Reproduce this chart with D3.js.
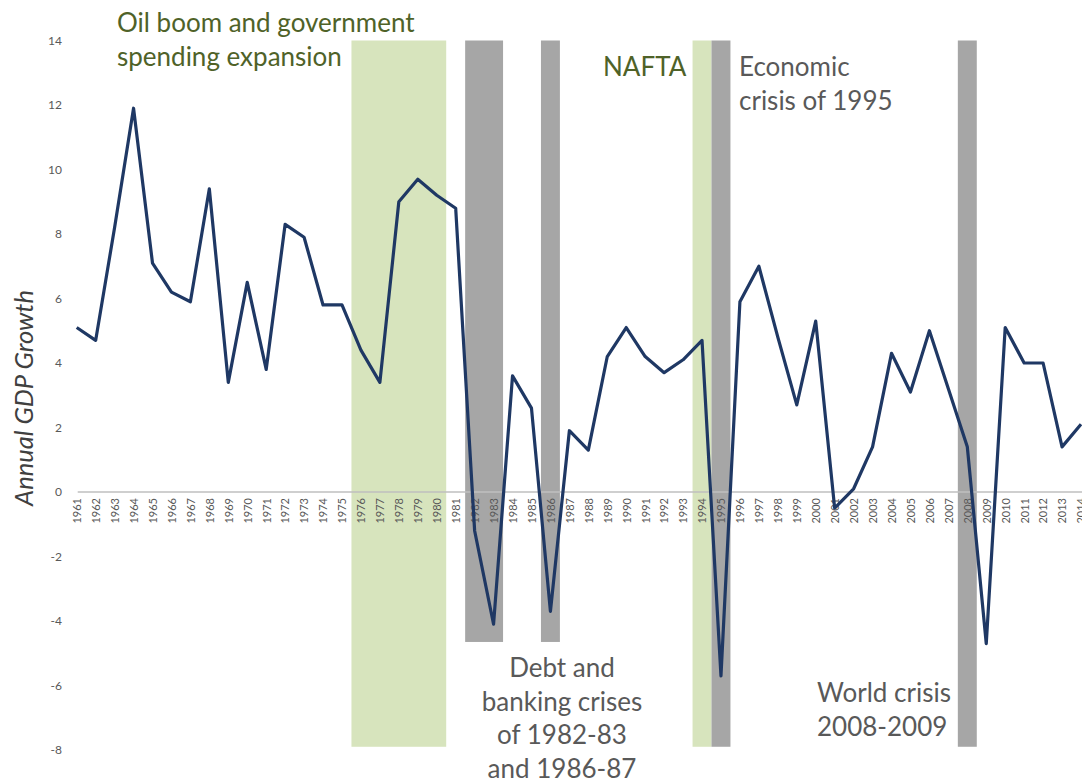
<!DOCTYPE html>
<html>
<head>
<meta charset="utf-8">
<script src="https://cdn.jsdelivr.net/npm/d3@7"></script>
<style>
  html, body { margin: 0; padding: 0; background: #fff; }
  svg { display: block; }
  text { font-family: Lato, "Open Sans", sans-serif; }
</style>
</head>
<body>
<svg id="chart" width="1082" height="778"></svg>
<script>
// Mexico: annual GDP growth (%), 1961-2014
const years = d3.range(1961, 2015).map(String);
const growth = [
  5.1, 4.7, 8.2, 11.9, 7.1, 6.2, 5.9, 9.4, 3.4, 6.5,
  3.8, 8.3, 7.9, 5.8, 5.8, 4.4, 3.4, 9.0, 9.7, 9.2,
  8.8, -1.2, -4.1, 3.6, 2.6, -3.7, 1.9, 1.3, 4.2, 5.1,
  4.2, 3.7, 4.1, 4.7, -5.7, 5.9, 7.0, 4.8, 2.7, 5.3,
  -0.5, 0.1, 1.4, 4.3, 3.1, 5.0, 3.2, 1.4, -4.7, 5.1,
  4.0, 4.0, 1.4, 2.1
];
const yTicks = [-8, -6, -4, -2, 0, 2, 4, 6, 8, 10, 12, 14];

// Shaded periods
const bandStart  = ["1976", "1982", "1986", "1994", "1995", "2008"];
const bandEnd    = ["1980", "1983", "1986", "1994", "1995", "2008"];
const bandTop    = [14, 14, 14, 14, 14, 14];
const bandBottom = [-7.9, -4.65, -4.65, -7.9, -7.9, -7.9];
const bandKind   = ["boom", "crisis", "crisis", "boom", "crisis", "crisis"];

// Annotation texts
const noteLines = [
  ["Oil boom and government", "spending expansion"],
  ["NAFTA"],
  ["Economic", "crisis of 1995"],
  ["Debt and", "banking crises", "of 1982-83", "and 1986-87"],
  ["World crisis", "2008-2009"]
];
const noteKind = ["boom", "boom", "crisis", "crisis", "crisis"];

const svg = d3.select("#chart");

const x = d3.scalePoint().domain(years).range([76.7, 1081]);
const y = d3.scaleLinear().domain([-8, 14]).range([750, 40.5]);
const step = x.step();

const fillOf = { boom: "#d7e4bd", crisis: "#a6a6a6" };
const textOf = { boom: "#4f6228", crisis: "#595959" };

// Bands
svg.append("g").selectAll("rect")
  .data(bandStart.map((s, i) => ({ s, e: bandEnd[i], t: bandTop[i], b: bandBottom[i], k: bandKind[i] })))
  .join("rect")
  .attr("x", d => x(d.s) - step / 2)
  .attr("width", d => x(d.e) - x(d.s) + step)
  .attr("y", d => y(d.t))
  .attr("height", d => y(d.b) - y(d.t))
  .attr("fill", d => fillOf[d.k]);

// X axis along zero
const xAxis = svg.append("g")
  .attr("transform", `translate(0,${y(0)})`)
  .call(d3.axisBottom(x).tickSize(0).tickSizeOuter(0));
xAxis.select(".domain").attr("stroke", "#bfbfbf").attr("stroke-width", 1.3)
  .attr("d", `M${x("1961") + 1},0H1082`);
xAxis.selectAll("text")
  .attr("transform", "rotate(-90)")
  .attr("text-anchor", "end")
  .attr("x", -6).attr("y", 0).attr("dy", "0.35em")
  .attr("fill", "#595959")
  .style("font-size", "11px")
  .style("font-family", "Lato, 'Open Sans', sans-serif");

// Y axis labels
const yAxis = svg.append("g")
  .attr("transform", "translate(62,0)")
  .call(d3.axisLeft(y).tickValues(yTicks).tickSize(0).tickPadding(0)
    .tickFormat(d => d < 0 ? "-" + Math.abs(d) : String(d)));
yAxis.select(".domain").remove();
yAxis.selectAll("text")
  .attr("fill", "#595959")
  .style("font-size", "12px")
  .style("font-family", "Lato, 'Open Sans', sans-serif");

// Y axis title
svg.append("text")
  .attr("transform", "translate(33,398) rotate(-90)")
  .attr("text-anchor", "middle")
  .attr("fill", "#404040")
  .style("font-size", "25.5px")
  .style("font-style", "italic")
  .text("Annual GDP Growth");

// Growth line
svg.append("path")
  .datum(growth)
  .attr("fill", "none")
  .attr("stroke", "#1f3864")
  .attr("stroke-width", 3.2)
  .attr("stroke-linejoin", "round")
  .attr("d", d3.line().x((d, i) => x(years[i])).y(d => y(d)));

// Annotations
const notePos = [
  { x: 117, y: 32, anchor: "start" },
  { x: 603, y: 76, anchor: "start" },
  { x: 739, y: 76, anchor: "start" },
  { x: 562, y: 677, anchor: "middle" },
  { x: 817, y: 702, anchor: "start" }
];
noteLines.forEach((lines, i) => {
  const t = svg.append("text")
    .attr("x", notePos[i].x).attr("y", notePos[i].y)
    .attr("text-anchor", notePos[i].anchor)
    .attr("fill", textOf[noteKind[i]])
    .style("font-size", "26px");
  lines.forEach((ln, j) => {
    t.append("tspan").attr("x", notePos[i].x).attr("y", notePos[i].y + j * 33.7).text(ln);
  });
});
</script>
</body>
</html>
